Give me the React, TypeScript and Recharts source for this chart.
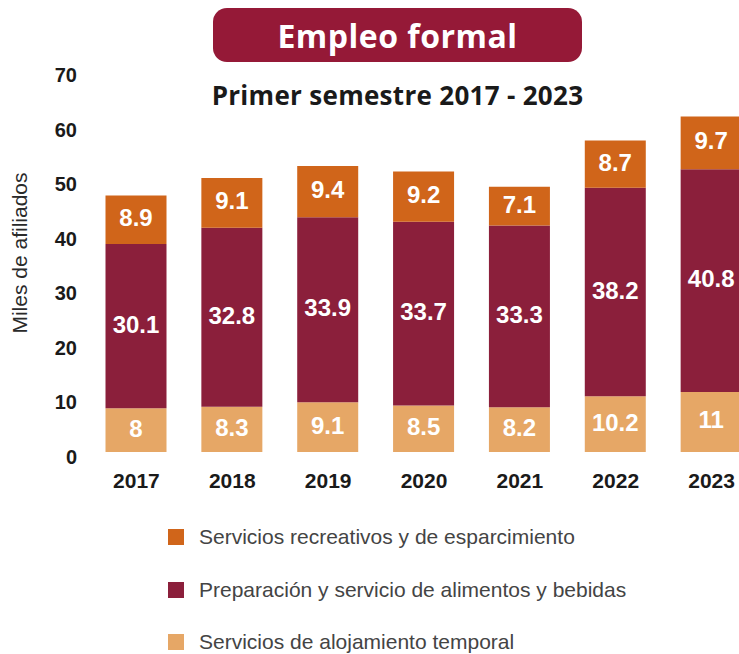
import React from 'react';
import { BarChart, Bar, XAxis, YAxis, LabelList, Legend } from 'recharts';

const years = ['2017', '2018', '2019', '2020', '2021', '2022', '2023'];
const alojamiento = [8, 8.3, 9.1, 8.5, 8.2, 10.2, 11];
const alimentos = [30.1, 32.8, 33.9, 33.7, 33.3, 38.2, 40.8];
const recreativos = [8.9, 9.1, 9.4, 9.2, 7.1, 8.7, 9.7];
const yTicks = [0, 10, 20, 30, 40, 50, 60, 70];

const seriesNames = {
  alojamiento: 'Servicios de alojamiento temporal',
  alimentos: 'Preparación y servicio de alimentos y bebidas',
  recreativos: 'Servicios recreativos y de esparcimiento',
};
const legendOrder = ['recreativos', 'alimentos', 'alojamiento'];

const data = years.map((y, i) => ({
  year: y,
  alojamiento: alojamiento[i],
  alimentos: alimentos[i],
  recreativos: recreativos[i],
}));

const COLORS: Record<string, string> = {
  alojamiento: '#E6A766',
  alimentos: '#8B1F3B',
  recreativos: '#D0651A',
};

const FONT = '"Liberation Sans", Arial, sans-serif';

const YTick = (props: any) => {
  const { x, y, payload } = props;
  return (
    <text x={x} y={y + 5} textAnchor="end" dominantBaseline="central" fontSize={20} fontWeight="bold" fill="#1a1a1a" fontFamily={FONT}>
      {payload.value}
    </text>
  );
};

const XTick = (props: any) => {
  const { x, y, payload } = props;
  return (
    <text x={x} y={y} textAnchor="middle" dy="0.71em" fontSize={21} fontWeight="bold" fill="#1a1a1a" fontFamily={FONT}>
      {payload.value}
    </text>
  );
};

const BarLabel = (props: any) => {
  const { x, y, width, height, value } = props;
  return (
    <text x={x + width / 2} y={y + height / 2 - 2} textAnchor="middle" dominantBaseline="central" fontSize={24} fontWeight="bold" fill="#ffffff" fontFamily={FONT}>
      {value}
    </text>
  );
};

const YLabel = () => (
  <text x={19} y={253} transform="rotate(-90, 19, 253)" textAnchor="middle" dominantBaseline="central" fontSize={21} fill="#2a2a2a" fontFamily={FONT}>
    Miles de afiliados
  </text>
);

const LegendContent = (props: any) => {
  const payload = props.payload || [];
  const items = legendOrder.map((k) => {
    const p = payload.find((it: any) => it.dataKey === k);
    return { key: k, value: p ? p.value : (seriesNames as any)[k], color: p ? p.color : COLORS[k] };
  });
  return (
    <div style={{ fontFamily: FONT }}>
      {items.map((it: any) => (
        <div key={it.key} style={{ display: 'flex', alignItems: 'center', height: 52.5 }}>
          <div style={{ width: 16, height: 16, background: it.color, marginRight: 15 }} />
          <span style={{ fontSize: 21, color: '#444444', whiteSpace: 'nowrap' }}>{it.value}</span>
        </div>
      ))}
    </div>
  );
};

export default function App() {
  return (
    <div style={{ position: 'fixed', left: 0, top: 0, width: 739, height: 654, overflow: 'hidden', background: '#ffffff' }}>
      <BarChart width={780} height={654} data={data} margin={{ top: 70, right: 20.5, bottom: 172, left: 0 }}>
        <XAxis dataKey="year" axisLine={false} tickLine={false} tickSize={0} tickMargin={21} height={30} tick={<XTick />} interval={0} />
        <YAxis width={88.5} domain={[0, 70]} ticks={yTicks} axisLine={false} tickLine={false} tickSize={0} tickMargin={11.5} tick={<YTick />} interval={0} label={<YLabel />} />
        <Legend layout="vertical" align="center" verticalAlign="middle" wrapperStyle={{ top: 511, left: 168, width: 520 }} content={<LegendContent />} />
        <Bar dataKey="alojamiento" name={seriesNames.alojamiento} stackId="a" fill={COLORS.alojamiento} barSize={61} isAnimationActive={false}>
          <LabelList dataKey="alojamiento" content={<BarLabel />} />
        </Bar>
        <Bar dataKey="alimentos" name={seriesNames.alimentos} stackId="a" fill={COLORS.alimentos} barSize={61} isAnimationActive={false}>
          <LabelList dataKey="alimentos" content={<BarLabel />} />
        </Bar>
        <Bar dataKey="recreativos" name={seriesNames.recreativos} stackId="a" fill={COLORS.recreativos} barSize={61} isAnimationActive={false}>
          <LabelList dataKey="recreativos" content={<BarLabel />} />
        </Bar>
      </BarChart>
      <div style={{ position: 'absolute', left: 213, top: 8, width: 369, height: 54, background: '#951937', borderRadius: 14, display: 'flex', alignItems: 'center', justifyContent: 'center', color: '#ffffff', fontFamily: '"Open Sans", sans-serif', fontWeight: 700, fontSize: 32, letterSpacing: 0.5, whiteSpace: 'nowrap' }}>
        Empleo formal
      </div>
      <div style={{ position: 'absolute', left: 113, top: 78, width: 569, height: 34, lineHeight: '34px', textAlign: 'center', color: '#1a1a1a', fontFamily: '"Open Sans", sans-serif', fontWeight: 700, fontSize: 26, letterSpacing: 0.3, whiteSpace: 'nowrap' }}>
        Primer semestre 2017 - 2023
      </div>
    </div>
  );
}
